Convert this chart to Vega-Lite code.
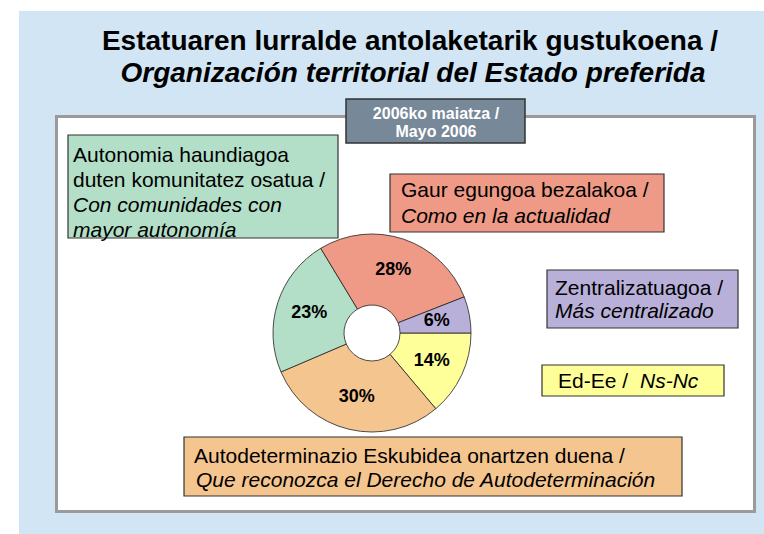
{
  "$schema": "https://vega.github.io/schema/vega-lite/v6.json",
  "width": 764,
  "height": 534,
  "autosize": {"type": "fit", "contains": "padding"},
  "padding": 0,
  "background": "white",
  "config": {"view": {"stroke": null}, "axis": {"disable": true}, "text": {"font": "Liberation Sans"}},
  "data": {"values": [
    {"cat": "nsnc", "eu": "Ed-Ee /", "es": "Ns-Nc", "pct": 14, "label": "14%", "ord": 1},
    {"cat": "autodet", "eu": "Autodeterminazio Eskubidea onartzen duena /", "es": "Que reconozca el Derecho de Autodeterminación", "pct": 30, "label": "30%", "ord": 2},
    {"cat": "autonomia", "eu": ["Autonomia haundiagoa", "duten komunitatez osatua /"], "es": ["Con comunidades con", "mayor autonomía"], "pct": 23, "label": "23%", "ord": 3},
    {"cat": "actual", "eu": "Gaur egungoa bezalakoa /", "es": "Como en la actualidad", "pct": 28, "label": "28%", "ord": 4},
    {"cat": "central", "eu": "Zentralizatuagoa /", "es": "Más centralizado", "pct": 6, "label": "6%", "ord": 5}
  ]},
  "layer": [
    {
      "data": {"values": [{"id": 1}]},
      "mark": {"type": "rect", "fill": "#D1E5F4"},
      "encoding": {
        "x": {"datum": 19, "type": "quantitative", "scale": {"domain": [0, 764], "nice": false, "zero": false}, "axis": null},
        "x2": {"datum": 764},
        "y": {"datum": 11, "type": "quantitative", "scale": {"domain": [0, 534], "nice": false, "zero": false, "reverse": true}, "axis": null},
        "y2": {"datum": 534}
      }
    },
    {
      "data": {"values": [{"id": 1}]},
      "mark": {"type": "text", "text": "Estatuaren lurralde antolaketarik gustukoena /", "fontSize": 28, "fontWeight": "bold", "align": "center", "baseline": "alphabetic", "color": "black"},
      "encoding": {
        "x": {"datum": 410, "type": "quantitative", "scale": {"domain": [0, 764], "nice": false, "zero": false}, "axis": null},
        "y": {"datum": 50, "type": "quantitative", "scale": {"domain": [0, 534], "nice": false, "zero": false, "reverse": true}, "axis": null}
      }
    },
    {
      "data": {"values": [{"id": 1}]},
      "mark": {"type": "text", "text": "Organización territorial del Estado preferida", "fontSize": 28, "fontWeight": "bold", "fontStyle": "italic", "align": "center", "baseline": "alphabetic", "color": "black"},
      "encoding": {
        "x": {"datum": 413, "type": "quantitative", "scale": {"domain": [0, 764], "nice": false, "zero": false}, "axis": null},
        "y": {"datum": 82, "type": "quantitative", "scale": {"domain": [0, 534], "nice": false, "zero": false, "reverse": true}, "axis": null}
      }
    },
    {
      "data": {"values": [{"id": 1}]},
      "mark": {"type": "rect", "fill": "white", "stroke": "#9A9A9A", "strokeWidth": 3},
      "encoding": {
        "x": {"datum": 56.5, "type": "quantitative", "scale": {"domain": [0, 764], "nice": false, "zero": false}, "axis": null},
        "x2": {"datum": 754.5},
        "y": {"datum": 116.5, "type": "quantitative", "scale": {"domain": [0, 534], "nice": false, "zero": false, "reverse": true}, "axis": null},
        "y2": {"datum": 511.5}
      }
    },
    {
      "data": {"values": [{"id": 1}]},
      "mark": {"type": "rect", "fill": "#778899", "stroke": "#333333", "strokeWidth": 1.5},
      "encoding": {
        "x": {"datum": 346, "type": "quantitative", "scale": {"domain": [0, 764], "nice": false, "zero": false}, "axis": null},
        "x2": {"datum": 525},
        "y": {"datum": 99, "type": "quantitative", "scale": {"domain": [0, 534], "nice": false, "zero": false, "reverse": true}, "axis": null},
        "y2": {"datum": 143}
      }
    },
    {
      "data": {"values": [{"id": 1}]},
      "mark": {"type": "text", "text": "2006ko maiatza /", "fontSize": 16, "fontWeight": "bold", "align": "center", "baseline": "alphabetic", "color": "white"},
      "encoding": {
        "x": {"datum": 436, "type": "quantitative", "scale": {"domain": [0, 764], "nice": false, "zero": false}, "axis": null},
        "y": {"datum": 118.5, "type": "quantitative", "scale": {"domain": [0, 534], "nice": false, "zero": false, "reverse": true}, "axis": null}
      }
    },
    {
      "data": {"values": [{"id": 1}]},
      "mark": {"type": "text", "text": "Mayo 2006", "fontSize": 16, "fontWeight": "bold", "align": "center", "baseline": "alphabetic", "color": "white"},
      "encoding": {
        "x": {"datum": 436, "type": "quantitative", "scale": {"domain": [0, 764], "nice": false, "zero": false}, "axis": null},
        "y": {"datum": 137, "type": "quantitative", "scale": {"domain": [0, 534], "nice": false, "zero": false, "reverse": true}, "axis": null}
      }
    },
    {
      "transform": [{"filter": "datum.cat == 'autonomia'"}],
      "layer": [
        {
          "mark": {"type": "rect", "stroke": "#333333", "strokeWidth": 1.2},
          "encoding": {
            "x": {"datum": 68, "type": "quantitative", "scale": {"domain": [0, 764], "nice": false, "zero": false}, "axis": null},
            "x2": {"datum": 338},
            "y": {"datum": 135, "type": "quantitative", "scale": {"domain": [0, 534], "nice": false, "zero": false, "reverse": true}, "axis": null},
            "y2": {"datum": 238},
            "color": {"field": "cat", "type": "nominal", "scale": {"domain": ["nsnc", "autodet", "autonomia", "actual", "central"], "range": ["#FFFF99", "#F5C590", "#B3DFC8", "#EE9A86", "#B9B0D9"]}, "legend": null}
          }
        },
        {
          "mark": {"type": "text", "align": "left", "baseline": "alphabetic", "fontSize": 21, "lineHeight": 25, "color": "black"},
          "encoding": {
            "x": {"datum": 73, "type": "quantitative", "scale": {"domain": [0, 764], "nice": false, "zero": false}, "axis": null},
            "y": {"datum": 162, "type": "quantitative", "scale": {"domain": [0, 534], "nice": false, "zero": false, "reverse": true}, "axis": null},
            "text": {"field": "eu"}
          }
        },
        {
          "mark": {"type": "text", "align": "left", "baseline": "alphabetic", "fontSize": 21, "lineHeight": 25, "fontStyle": "italic", "color": "black"},
          "encoding": {
            "x": {"datum": 73, "type": "quantitative", "scale": {"domain": [0, 764], "nice": false, "zero": false}, "axis": null},
            "y": {"datum": 212, "type": "quantitative", "scale": {"domain": [0, 534], "nice": false, "zero": false, "reverse": true}, "axis": null},
            "text": {"field": "es"}
          }
        }
      ]
    },
    {
      "transform": [{"filter": "datum.cat == 'actual'"}],
      "layer": [
        {
          "mark": {"type": "rect", "stroke": "#333333", "strokeWidth": 1.2},
          "encoding": {
            "x": {"datum": 390, "type": "quantitative", "scale": {"domain": [0, 764], "nice": false, "zero": false}, "axis": null},
            "x2": {"datum": 664},
            "y": {"datum": 174, "type": "quantitative", "scale": {"domain": [0, 534], "nice": false, "zero": false, "reverse": true}, "axis": null},
            "y2": {"datum": 232},
            "color": {"field": "cat", "type": "nominal", "scale": {"domain": ["nsnc", "autodet", "autonomia", "actual", "central"], "range": ["#FFFF99", "#F5C590", "#B3DFC8", "#EE9A86", "#B9B0D9"]}, "legend": null}
          }
        },
        {
          "mark": {"type": "text", "align": "left", "baseline": "alphabetic", "fontSize": 21, "color": "black"},
          "encoding": {
            "x": {"datum": 401, "type": "quantitative", "scale": {"domain": [0, 764], "nice": false, "zero": false}, "axis": null},
            "y": {"datum": 197, "type": "quantitative", "scale": {"domain": [0, 534], "nice": false, "zero": false, "reverse": true}, "axis": null},
            "text": {"field": "eu"}
          }
        },
        {
          "mark": {"type": "text", "align": "left", "baseline": "alphabetic", "fontSize": 21, "fontStyle": "italic", "color": "black"},
          "encoding": {
            "x": {"datum": 401, "type": "quantitative", "scale": {"domain": [0, 764], "nice": false, "zero": false}, "axis": null},
            "y": {"datum": 223, "type": "quantitative", "scale": {"domain": [0, 534], "nice": false, "zero": false, "reverse": true}, "axis": null},
            "text": {"field": "es"}
          }
        }
      ]
    },
    {
      "transform": [{"filter": "datum.cat == 'central'"}],
      "layer": [
        {
          "mark": {"type": "rect", "stroke": "#333333", "strokeWidth": 1.2},
          "encoding": {
            "x": {"datum": 547, "type": "quantitative", "scale": {"domain": [0, 764], "nice": false, "zero": false}, "axis": null},
            "x2": {"datum": 738},
            "y": {"datum": 270, "type": "quantitative", "scale": {"domain": [0, 534], "nice": false, "zero": false, "reverse": true}, "axis": null},
            "y2": {"datum": 328},
            "color": {"field": "cat", "type": "nominal", "scale": {"domain": ["nsnc", "autodet", "autonomia", "actual", "central"], "range": ["#FFFF99", "#F5C590", "#B3DFC8", "#EE9A86", "#B9B0D9"]}, "legend": null}
          }
        },
        {
          "mark": {"type": "text", "align": "left", "baseline": "alphabetic", "fontSize": 21, "color": "black"},
          "encoding": {
            "x": {"datum": 555, "type": "quantitative", "scale": {"domain": [0, 764], "nice": false, "zero": false}, "axis": null},
            "y": {"datum": 295, "type": "quantitative", "scale": {"domain": [0, 534], "nice": false, "zero": false, "reverse": true}, "axis": null},
            "text": {"field": "eu"}
          }
        },
        {
          "mark": {"type": "text", "align": "left", "baseline": "alphabetic", "fontSize": 21, "fontStyle": "italic", "color": "black"},
          "encoding": {
            "x": {"datum": 555, "type": "quantitative", "scale": {"domain": [0, 764], "nice": false, "zero": false}, "axis": null},
            "y": {"datum": 318, "type": "quantitative", "scale": {"domain": [0, 534], "nice": false, "zero": false, "reverse": true}, "axis": null},
            "text": {"field": "es"}
          }
        }
      ]
    },
    {
      "transform": [{"filter": "datum.cat == 'nsnc'"}],
      "layer": [
        {
          "mark": {"type": "rect", "stroke": "#333333", "strokeWidth": 1.2},
          "encoding": {
            "x": {"datum": 542, "type": "quantitative", "scale": {"domain": [0, 764], "nice": false, "zero": false}, "axis": null},
            "x2": {"datum": 724},
            "y": {"datum": 365, "type": "quantitative", "scale": {"domain": [0, 534], "nice": false, "zero": false, "reverse": true}, "axis": null},
            "y2": {"datum": 396},
            "color": {"field": "cat", "type": "nominal", "scale": {"domain": ["nsnc", "autodet", "autonomia", "actual", "central"], "range": ["#FFFF99", "#F5C590", "#B3DFC8", "#EE9A86", "#B9B0D9"]}, "legend": null}
          }
        },
        {
          "mark": {"type": "text", "align": "left", "baseline": "alphabetic", "fontSize": 21, "color": "black"},
          "encoding": {
            "x": {"datum": 558, "type": "quantitative", "scale": {"domain": [0, 764], "nice": false, "zero": false}, "axis": null},
            "y": {"datum": 388, "type": "quantitative", "scale": {"domain": [0, 534], "nice": false, "zero": false, "reverse": true}, "axis": null},
            "text": {"field": "eu"}
          }
        },
        {
          "mark": {"type": "text", "align": "left", "baseline": "alphabetic", "fontSize": 21, "fontStyle": "italic", "color": "black"},
          "encoding": {
            "x": {"datum": 640, "type": "quantitative", "scale": {"domain": [0, 764], "nice": false, "zero": false}, "axis": null},
            "y": {"datum": 388, "type": "quantitative", "scale": {"domain": [0, 534], "nice": false, "zero": false, "reverse": true}, "axis": null},
            "text": {"field": "es"}
          }
        }
      ]
    },
    {
      "transform": [{"filter": "datum.cat == 'autodet'"}],
      "layer": [
        {
          "mark": {"type": "rect", "stroke": "#333333", "strokeWidth": 1.2},
          "encoding": {
            "x": {"datum": 184, "type": "quantitative", "scale": {"domain": [0, 764], "nice": false, "zero": false}, "axis": null},
            "x2": {"datum": 682},
            "y": {"datum": 437, "type": "quantitative", "scale": {"domain": [0, 534], "nice": false, "zero": false, "reverse": true}, "axis": null},
            "y2": {"datum": 496},
            "color": {"field": "cat", "type": "nominal", "scale": {"domain": ["nsnc", "autodet", "autonomia", "actual", "central"], "range": ["#FFFF99", "#F5C590", "#B3DFC8", "#EE9A86", "#B9B0D9"]}, "legend": null}
          }
        },
        {
          "mark": {"type": "text", "align": "left", "baseline": "alphabetic", "fontSize": 21, "color": "black"},
          "encoding": {
            "x": {"datum": 194, "type": "quantitative", "scale": {"domain": [0, 764], "nice": false, "zero": false}, "axis": null},
            "y": {"datum": 463, "type": "quantitative", "scale": {"domain": [0, 534], "nice": false, "zero": false, "reverse": true}, "axis": null},
            "text": {"field": "eu"}
          }
        },
        {
          "mark": {"type": "text", "align": "left", "baseline": "alphabetic", "fontSize": 21, "fontStyle": "italic", "color": "black"},
          "encoding": {
            "x": {"datum": 196, "type": "quantitative", "scale": {"domain": [0, 764], "nice": false, "zero": false}, "axis": null},
            "y": {"datum": 487, "type": "quantitative", "scale": {"domain": [0, 534], "nice": false, "zero": false, "reverse": true}, "axis": null},
            "text": {"field": "es"}
          }
        }
      ]
    },
    {
      "mark": {"type": "arc", "outerRadius": 99, "innerRadius": 28, "stroke": "#222222", "strokeWidth": 0.8},
      "encoding": {
        "x": {"datum": 372, "type": "quantitative", "scale": {"domain": [0, 764], "nice": false, "zero": false}, "axis": null},
        "y": {"datum": 333, "type": "quantitative", "scale": {"domain": [0, 534], "nice": false, "zero": false, "reverse": true}, "axis": null},
        "theta": {"field": "pct", "type": "quantitative", "stack": true, "scale": {"range": [1.5708, 7.854]}},
        "order": {"field": "ord", "type": "quantitative"},
        "color": {"field": "cat", "type": "nominal", "scale": {"domain": ["nsnc", "autodet", "autonomia", "actual", "central"], "range": ["#FFFF99", "#F5C590", "#B3DFC8", "#EE9A86", "#B9B0D9"]}, "legend": null}
      }
    },
    {
      "mark": {"type": "text", "radius": 66, "fontSize": 18, "fontWeight": "bold", "color": "black", "align": "center", "baseline": "middle"},
      "encoding": {
        "x": {"datum": 372, "type": "quantitative", "scale": {"domain": [0, 764], "nice": false, "zero": false}, "axis": null},
        "y": {"datum": 333, "type": "quantitative", "scale": {"domain": [0, 534], "nice": false, "zero": false, "reverse": true}, "axis": null},
        "theta": {"field": "pct", "type": "quantitative", "stack": true, "scale": {"range": [1.5708, 7.854]}},
        "order": {"field": "ord", "type": "quantitative"},
        "text": {"field": "label"}
      }
    }
  ]
}
